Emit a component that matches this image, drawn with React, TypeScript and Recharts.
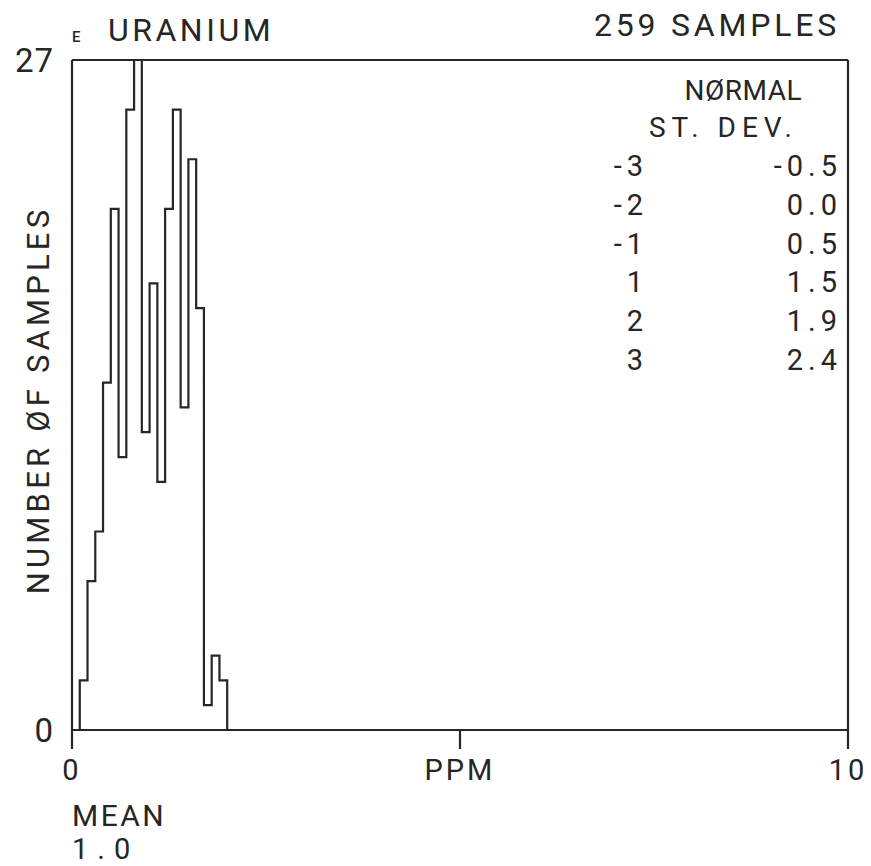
import { ComposedChart, Line, XAxis, YAxis, ReferenceLine } from "recharts";

// histogram bins (left edge, PPM) and sample counts
const binStarts = [0.0, 0.1, 0.2, 0.3, 0.4, 0.5, 0.6, 0.7, 0.8, 0.9, 1.0, 1.1, 1.2, 1.3, 1.4, 1.5, 1.6, 1.7, 1.8, 1.9, 2.0];
const counts = [0, 2, 6, 8, 14, 21, 11, 25, 27, 12, 18, 10, 21, 25, 13, 23, 17, 1, 3, 2, 0];

const xTicks = [0, 5, 10];
const yTicks = [0, 27];

const stDevs = ["-3", "-2", "-1", "1", "2", "3"];
const stDevValues = ["-0.5", "0.0", "0.5", "1.5", "1.9", "2.4"];

const data = binStarts.map((x, i) => ({ x, count: counts[i] }));

const INK = "#262626";
const FONT = "Roboto, 'Liberation Sans', sans-serif";

const XTick = (props: any) => {
  const { x, y, payload } = props;
  const label = payload.value === 5 ? "PPM" : String(payload.value);
  return (
    <text x={x} y={y + 21} textAnchor="middle" dominantBaseline="central" fill={INK} fontFamily={FONT} fontSize={29} letterSpacing={3}>
      {label}
    </text>
  );
};

const YTick = (props: any) => {
  const { x, y, payload } = props;
  return (
    <text x={x} y={y} textAnchor="end" dominantBaseline="central" fill={INK} fontFamily={FONT} fontSize={33} letterSpacing={1}>
      {payload.value}
    </text>
  );
};

export default function App() {
  const rowY = (i: number) => 166 + i * 38.8;
  return (
    <div style={{ position: "absolute", left: 0, top: 0, width: 871, height: 866, background: "#fff" }}>
      <ComposedChart width={871} height={866} data={data} margin={{ top: 60, right: 23, left: 0, bottom: 76 }}>
        <XAxis
          dataKey="x"
          type="number"
          domain={[0, 10]}
          ticks={xTicks}
          tickSize={19}
          tickMargin={0}
          height={60}
          stroke={INK}
          strokeWidth={2.2}
          tick={<XTick />}
        />
        <YAxis
          type="number"
          domain={[0, 27]}
          ticks={yTicks}
          width={72}
          tickLine={false}
          tickSize={0}
          tickMargin={18}
          stroke={INK}
          strokeWidth={2.2}
          tick={<YTick />}
        />
        <ReferenceLine y={27} stroke={INK} strokeWidth={2.2} />
        <ReferenceLine x={10} stroke={INK} strokeWidth={2.2} />
        <Line
          dataKey="count"
          type="stepAfter"
          stroke={INK}
          strokeWidth={2.2}
          dot={false}
          activeDot={false}
          isAnimationActive={false}
        />
      </ComposedChart>
      <svg width={871} height={866} style={{ position: "absolute", left: 0, top: 0, pointerEvents: "none" }} fontFamily={FONT} fill={INK}>
        <text x={72} y={37} fontSize={15} fontWeight={500} dominantBaseline="central">E</text>
        <text x={108} y={30} fontSize={32} letterSpacing={3.5} dominantBaseline="central">URANIUM</text>
        <text x={840} y={25} fontSize={32} letterSpacing={3.8} textAnchor="end" dominantBaseline="central">259 SAMPLES</text>
        <text x={38} y={400} fontSize={31} letterSpacing={4.2} textAnchor="middle" dominantBaseline="central" transform="rotate(-90 38 400)">
          NUMBER ØF SAMPLES
        </text>
        <text x={802} y={90} fontSize={28} letterSpacing={0.5} textAnchor="end" dominantBaseline="central">NØRMAL</text>
        <text x={798} y={127} fontSize={28} letterSpacing={6} textAnchor="end" dominantBaseline="central">ST. DEV.</text>
        {stDevs.map((s, i) => (
          <text key={s} x={648} y={rowY(i)} fontSize={29} letterSpacing={5} textAnchor="end" dominantBaseline="central">{s}</text>
        ))}
        {stDevValues.map((v, i) => (
          <text key={i} x={842} y={rowY(i)} fontSize={29} letterSpacing={5} textAnchor="end" dominantBaseline="central">{v}</text>
        ))}
        <text x={72} y={815} fontSize={30} letterSpacing={2.5} dominantBaseline="central">MEAN</text>
        <text x={72} y={849} fontSize={29} letterSpacing={9} dominantBaseline="central">1.0</text>
      </svg>
    </div>
  );
}
